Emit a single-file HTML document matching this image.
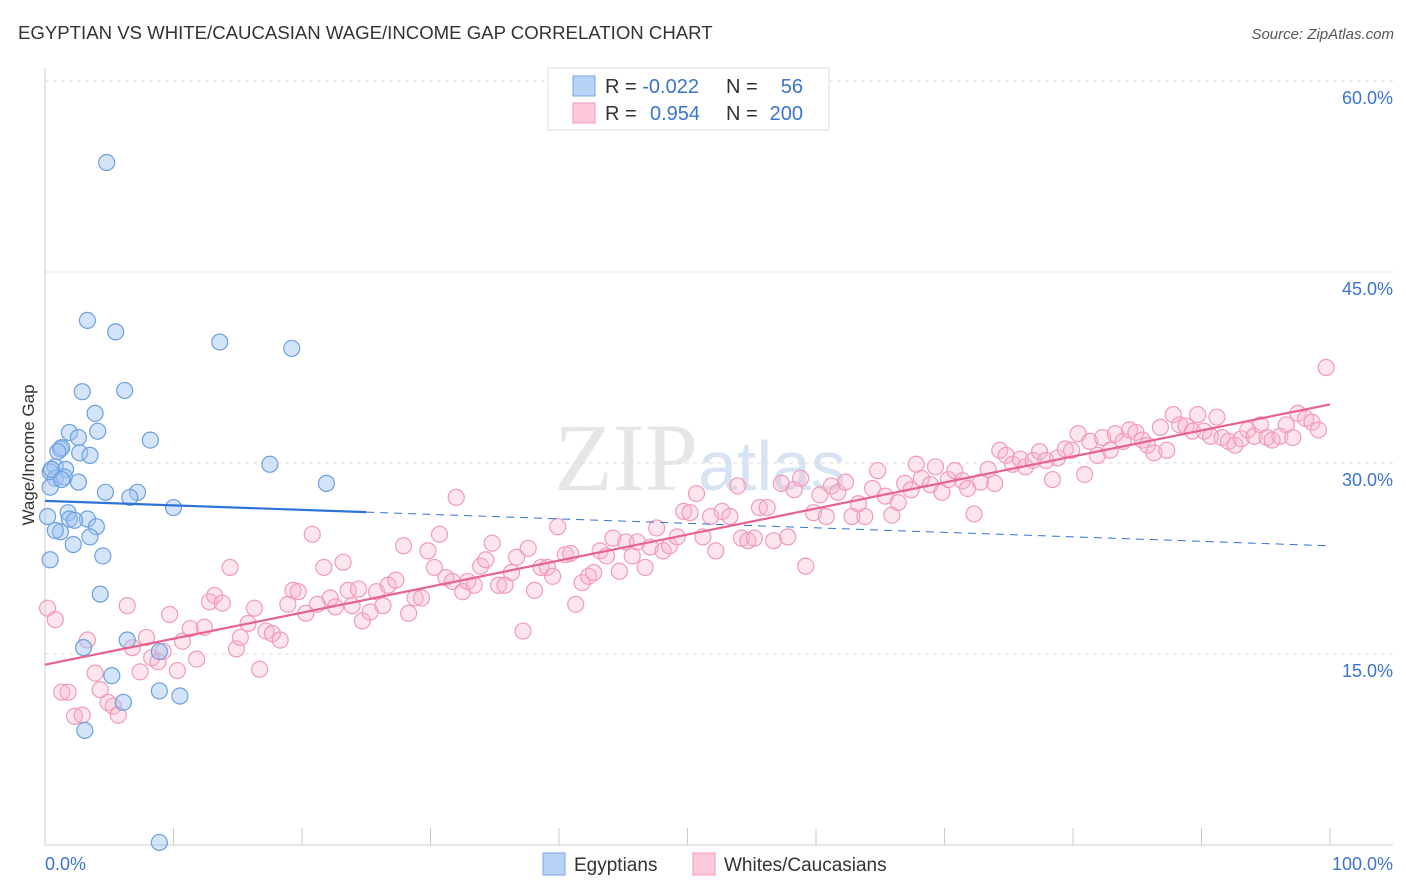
<!DOCTYPE html>
<html><head><meta charset="utf-8"><style>
body{margin:0;background:#fff;font-family:"Liberation Sans",sans-serif}
svg{display:block}
</style></head><body>
<svg id="chart" width="1406" height="892" xmlns="http://www.w3.org/2000/svg">
<text x="18" y="39" font-size="18.6" fill="#333">EGYPTIAN VS WHITE/CAUCASIAN WAGE/INCOME GAP CORRELATION CHART</text>
<text x="1394" y="39" font-size="15" fill="#555" text-anchor="end" font-style="italic">Source: ZipAtlas.com</text>
<text x="700" y="490" font-size="96" fill="#e6e6e6" text-anchor="middle" font-family="Liberation Serif,serif">ZIP<tspan fill="#d5e3f3" font-family="Liberation Sans,sans-serif" font-size="70">atlas</tspan></text>
<g id="grid"></g>
<g id="axes"></g>
<g id="pts"></g>
<g id="lines"></g>
<text transform="translate(34,455) rotate(-90)" font-size="17" fill="#333" text-anchor="middle">Wage/Income Gap</text>
<g>
<rect x="548" y="68" width="281" height="62" fill="#fff" stroke="#ddd"/>
<rect x="573" y="76" width="22" height="20" fill="#b7d3f6" stroke="#7aa8e6"/>
<rect x="573" y="103" width="22" height="20" fill="#fbc9d8" stroke="#f29ab8"/>
<text x="605" y="93" font-size="20" fill="#333">R = <tspan fill="#3a74d0">-0.022</tspan></text>
<text x="726" y="93" font-size="20" fill="#333">N = </text><text x="803" y="93" font-size="20" fill="#3a74d0" text-anchor="end">56</text>
<text x="605" y="120" font-size="20" fill="#333">R = </text><text x="650" y="120" font-size="20" fill="#3a74d0">0.954</text>
<text x="726" y="120" font-size="20" fill="#333">N = </text><text x="803" y="120" font-size="20" fill="#3a74d0" text-anchor="end">200</text>
</g>
<g>
<rect x="543" y="853" width="22" height="22" fill="#b7d3f6" stroke="#7aa8e6"/>
<text x="574" y="871" font-size="19" fill="#333">Egyptians</text>
<rect x="693" y="853" width="22" height="22" fill="#fbc9d8" stroke="#f29ab8"/>
<text x="724" y="871" font-size="19" fill="#333">Whites/Caucasians</text>
</g>
</svg>
<script>
const yTicks=[15,30,45,60];
const yTickLabels=["15.0%","30.0%","45.0%","60.0%"];
const xTicks=[0,10,20,30,40,50,60,70,80,90,100];
const blueX=[4.8,3.3,5.5,13.6,19.2,2.9,6.2,3.9,4.1,1.9,2.6,8.2,1.2,2.7,3.5,1.3,17.5,0.8,1.6,0.4,0.8,1.5,2.6,21.9,0.4,4.7,7.2,6.6,10.0,1.8,1.9,3.3,0.2,4.0,1.2,3.5,2.2,0.4,4.5,4.3,6.4,3.0,8.9,5.2,6.1,8.9,10.5,3.1,8.9,0.5,1.3,2.3,0.8,1.0];
const blueY=[53.6,41.2,40.3,39.5,39.0,35.6,35.7,33.9,32.5,32.4,32.0,31.8,31.1,30.8,30.6,31.2,29.9,29.7,29.5,29.3,28.8,28.9,28.5,28.4,28.1,27.7,27.7,27.3,26.5,26.1,25.6,25.6,25.8,25.0,24.6,24.2,23.6,22.4,22.7,19.7,16.1,15.5,15.2,13.3,11.2,12.1,11.7,9.0,0.2,29.5,28.7,25.5,24.7,30.9];
const pinkX=[0.2,0.8,1.3,1.8,2.3,2.9,3.3,3.9,4.3,4.9,5.3,5.7,6.4,6.8,7.4,7.9,8.3,8.8,9.2,9.7,10.3,10.7,11.3,11.8,12.4,12.8,13.2,13.8,14.4,14.9,15.2,15.8,16.3,16.7,17.2,17.7,18.3,18.9,19.3,19.7,20.3,20.8,21.2,21.7,22.2,22.6,23.2,23.6,23.9,24.4,24.7,25.3,25.8,26.3,26.7,27.3,27.9,28.3,28.8,29.3,29.8,30.3,30.7,31.2,31.7,32.0,32.5,32.9,33.4,33.9,34.3,34.8,35.3,35.8,36.3,36.7,37.2,37.6,38.1,38.6,39.1,39.5,39.9,40.5,40.9,41.3,41.8,42.3,42.7,43.2,43.7,44.2,44.7,45.2,45.7,46.1,46.7,47.1,47.6,48.1,48.6,49.2,49.7,50.2,50.7,51.2,51.8,52.2,52.7,53.3,53.9,54.2,54.7,55.2,55.6,56.2,56.7,57.3,57.8,58.3,58.8,59.2,59.8,60.3,60.8,61.2,61.7,62.3,62.8,63.3,63.8,64.4,64.8,65.4,65.9,66.4,66.9,67.4,67.8,68.2,68.9,69.3,69.8,70.3,70.8,71.4,71.8,72.3,72.8,73.4,73.9,74.3,74.8,75.3,75.9,76.3,76.9,77.4,77.9,78.4,78.8,79.4,79.9,80.4,80.9,81.3,81.9,82.3,82.9,83.3,83.9,84.4,84.9,85.4,85.8,86.3,86.8,87.3,87.8,88.3,88.8,89.3,89.7,90.2,90.7,91.2,91.6,92.1,92.6,93.1,93.6,94.1,94.6,95.1,95.5,96.1,96.6,97.1,97.5,98.1,98.6,99.1,99.7];
const pinkY=[18.6,17.7,12.0,12.0,10.1,10.2,16.1,13.5,12.2,11.2,10.9,10.2,18.8,15.5,13.6,16.3,14.7,14.4,15.2,18.1,13.7,16.0,17.0,14.6,17.1,19.1,19.6,19.0,21.8,15.4,16.3,17.4,18.6,13.8,16.8,16.6,16.1,18.9,20.0,19.9,18.2,24.4,18.9,21.8,19.4,18.7,22.2,20.0,18.8,20.1,17.6,18.3,19.9,18.8,20.4,20.8,23.5,18.2,19.4,19.4,23.1,21.8,24.4,21.0,20.7,27.3,19.9,20.7,20.4,21.9,22.4,23.7,20.4,20.4,21.4,22.6,16.8,23.3,20.0,21.8,21.8,21.1,25.0,22.8,22.9,18.9,20.6,21.1,21.4,23.1,22.7,24.1,21.5,23.8,22.7,23.8,21.8,23.4,24.9,23.1,23.5,24.2,26.2,26.1,27.6,24.2,25.8,23.1,26.2,25.8,28.2,24.1,23.9,24.1,26.5,26.5,23.9,28.4,24.2,27.9,28.8,21.9,26.1,27.5,25.8,28.2,27.7,28.5,25.8,26.8,25.8,28.0,29.4,27.4,25.9,26.9,28.4,27.9,29.9,28.8,28.3,29.7,27.7,28.7,29.4,28.6,28.0,26.0,28.5,29.5,28.4,31.0,30.6,29.9,30.3,29.7,30.2,30.9,30.2,28.7,30.4,31.1,31.0,32.3,29.1,31.7,30.6,32.0,31.0,32.3,31.7,32.6,32.4,31.8,31.4,30.8,32.8,31.0,33.8,33.0,32.9,32.5,33.8,32.5,32.1,33.6,32.0,31.7,31.4,31.9,32.6,32.1,33.0,32.0,31.8,32.1,33.0,32.0,33.9,33.5,33.2,32.6,37.5];

const NS="http://www.w3.org/2000/svg";
const X0=45,X1=1330,Y0=845,PPY=12.733;
function sx(v){return X0+(X1-X0)*v/100;}
function sy(v){return Y0-v*PPY;}
function mk(tag,attrs,parent){const e=document.createElementNS(NS,tag);for(const k in attrs)e.setAttribute(k,attrs[k]);parent.appendChild(e);return e;}
const grid=document.getElementById('grid'),axes=document.getElementById('axes'),pts=document.getElementById('pts'),lines=document.getElementById('lines');
yTicks.forEach((t,i)=>{
  const l=mk('line',{x1:X0,x2:1393,y1:sy(t),y2:sy(t),stroke:'#ddd','stroke-dasharray':'4,4'},grid);
  
  
  const tx=mk('text',{x:1393,y:sy(t)+23,'font-size':18,fill:'#3a74d0','text-anchor':'end'},axes);
  tx.textContent=yTickLabels[i];
  
  
});
const ya=mk('line',{x1:X0,x2:X0,y1:68,y2:Y0,stroke:'#ccc'},axes);


const xa=mk('line',{x1:X0,x2:1393,y1:Y0,y2:Y0,stroke:'#ccc'},axes);


xTicks.forEach(t=>{
  const l=mk('line',{x1:sx(t),x2:sx(t),y1:828,y2:Y0,stroke:'#ccc'},axes);
  
  
});
const xl0=mk('text',{x:45,y:870,'font-size':18,fill:'#3a74d0'},axes);xl0.textContent='0.0%';


const xl1=mk('text',{x:1393,y:870,'font-size':18,fill:'#3a74d0','text-anchor':'end'},axes);xl1.textContent='100.0%';



function drawPts(xs,ys,fill,stroke,name){
  xs.forEach((x,i)=>{
    const c=mk('circle',{cx:sx(x),cy:sy(ys[i]),r:8,fill:fill,stroke:stroke,'stroke-width':1.2},pts);
    
    
  });
}
drawPts(pinkX,pinkY,'rgba(248,180,202,0.35)','#f29ab8','white-caucasian-point');
drawPts(blueX,blueY,'rgba(160,196,240,0.45)','#6a9fe0','egyptian-point');

function fit(xs,ys){const n=xs.length;let mx=0,my=0;xs.forEach((x,i)=>{mx+=x;my+=ys[i];});mx/=n;my/=n;let a=0,b=0;xs.forEach((x,i)=>{a+=(x-mx)*(ys[i]-my);b+=(x-mx)*(x-mx);});const s=a/b;return [s,my-s*mx];}
const bf=fit(blueX,blueY),pf=fit(pinkX,pinkY);
const bl1=mk('line',{x1:sx(0),y1:sy(bf[1]),x2:sx(25),y2:sy(bf[1]+bf[0]*25),stroke:'#2f73d6','stroke-width':2.2},lines);


const bl2=mk('line',{x1:sx(25),y1:sy(bf[1]+bf[0]*25),x2:sx(100),y2:sy(bf[1]+bf[0]*100),stroke:'#2f73d6','stroke-width':1,'stroke-dasharray':'8,6'},lines);


const pl=mk('line',{x1:sx(0),y1:sy(pf[1]),x2:sx(100),y2:sy(pf[1]+pf[0]*100),stroke:'#e8628f','stroke-width':2.2},lines);


</script>
</body></html>
